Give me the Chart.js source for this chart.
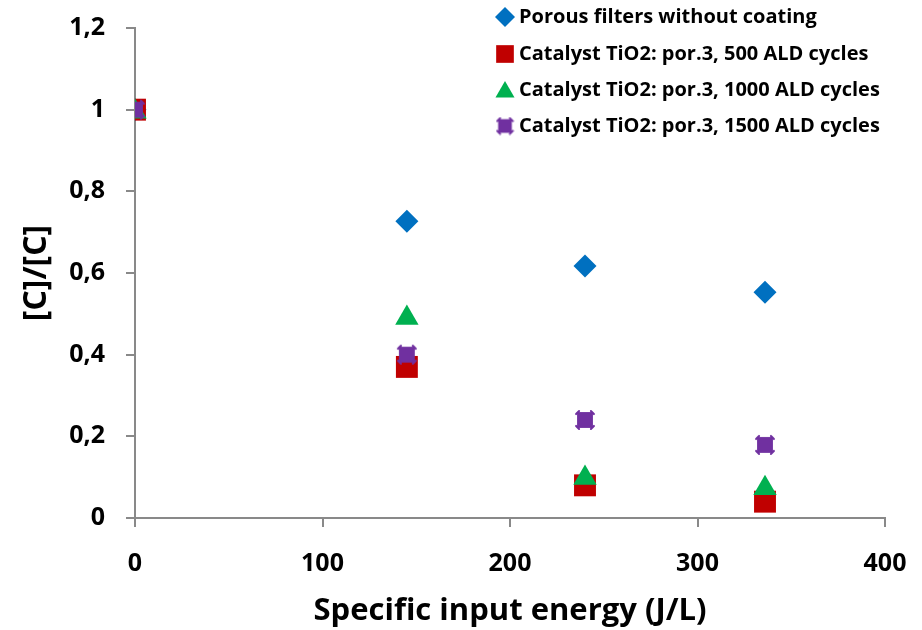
<!DOCTYPE html>
<html lang="en">
<head>
  <meta charset="UTF-8" />
  <title>Specific input energy</title>
  <script src="https://cdn.jsdelivr.net/npm/chart.js"></script>
  <style>
    html, body { margin: 0; padding: 0; background: #fff; }
    #wrap { width: 922px; height: 630px; }
  </style>
</head>
<body>
  <div id="wrap"><canvas id="chart" width="922" height="630"></canvas></div>

  <script>
    // datos
    const energy = [0, 145, 240, 336];
    const seriesNames = [
      'Porous filters without coating',
      'Catalyst TiO2: por.3, 500 ALD cycles',
      'Catalyst TiO2: por.3, 1000 ALD cycles',
      'Catalyst TiO2: por.3, 1500 ALD cycles'
    ];
    const uncoated = [1.0, 0.727, 0.617, 0.553];
    const ald500 = [1.0, 0.37, 0.08, 0.04];
    const ald1000 = [0.995, 0.49, 0.098, 0.073];
    const ald1500 = [1.0, 0.40, 0.24, 0.179];
    const yTicks = [0, 0.2, 0.4, 0.6, 0.8, 1, 1.2];
    const colors = ['#0070C0', '#C00000', '#00B050', '#7030A0'];

    const FONT = '"Open Sans", sans-serif';

    // marcador morado: cuadrado con esquinas marcadas
    function purpleMarker(size) {
      const c = document.createElement('canvas');
      c.width = size; c.height = size;
      const g = c.getContext('2d');
      const m = size / 2, h = size * 0.36;
      g.fillStyle = colors[3];
      g.fillRect(m - h, m - h, 2 * h, 2 * h);
      g.lineWidth = 2;
      g.strokeStyle = colors[3];
      g.lineCap = 'round';
      [[-1, -1], [1, -1], [-1, 1], [1, 1]].forEach(([sx, sy]) => {
        g.beginPath();
        g.moveTo(m + sx * (h - 2), m + sy * (h + 1));
        g.lineTo(m + sx * (h + 1), m + sy * (h - 2));
        g.stroke();
      });
      return c;
    }
    const purple = purpleMarker(22);

    const pts = ys => energy.map((x, i) => ({ x, y: ys[i] }));

    const styles = [
      { pointStyle: 'rectRot', radius: 11.5 },
      { pointStyle: 'rect', radius: 15.5 },
      { pointStyle: 'triangle', radius: 13.5 },
      { pointStyle: purple, radius: 11 }
    ];

    const datasets = [uncoated, ald500, ald1000, ald1500].map((ys, i) => ({
      label: seriesNames[i],
      data: pts(ys),
      showLine: false,
      pointStyle: styles[i].pointStyle,
      pointRadius: styles[i].radius,
      pointHoverRadius: styles[i].radius,
      backgroundColor: colors[i],
      borderColor: colors[i],
      borderWidth: 0,
      order: 4 - i
    }));

    // leyenda dibujada dentro del area, arriba a la derecha
    const legendInside = {
      id: 'legendInside',
      afterDraw(chart) {
        const ctx = chart.ctx;
        const rows = [17, 54, 90, 126];
        const legendStyles = [
          { pointStyle: 'rectRot', radius: 10 },
          { pointStyle: 'rect', radius: 12.5 },
          { pointStyle: 'triangle', radius: 11 },
          { pointStyle: purpleMarker(19), radius: 9 }
        ];
        ctx.save();
        rows.forEach((y, i) => {
          ctx.fillStyle = colors[i];
          ctx.strokeStyle = colors[i];
          ctx.lineWidth = 0;
          Chart.helpers.drawPoint(ctx, {
            pointStyle: legendStyles[i].pointStyle,
            radius: legendStyles[i].radius,
            rotation: 0,
            borderWidth: 0
          }, 505, y + (i === 2 ? 2 : 0));
          ctx.fillStyle = '#000';
          ctx.font = 'bold 20px ' + FONT;
          ctx.textBaseline = 'middle';
          ctx.textAlign = 'left';
          ctx.fillText(seriesNames[i], 519, y);
        });
        ctx.restore();
      }
    };

    new Chart(document.getElementById('chart'), {
      type: 'scatter',
      data: { datasets },
      plugins: [legendInside],
      options: {
        responsive: false,
        animation: false,
        layout: { padding: { top: 0, right: 0, left: 18, bottom: 0 } },
        plugins: {
          legend: { display: false },
          tooltip: { enabled: false }
        },
        scales: {
          x: {
            type: 'linear',
            min: 0,
            max: 400,
            afterFit: axis => { axis.height = 112; axis.paddingRight = 37; },
            ticks: {
              stepSize: 100,
              color: '#000',
              padding: 22,
              font: { family: FONT, size: 25, weight: 'bold' }
            },
            grid: {
              drawOnChartArea: false,
              color: '#898989',
              lineWidth: 2,
              tickLength: 9
            },
            border: { color: '#898989', width: 2 },
            title: {
              display: true,
              text: 'Specific input energy (J/L)',
              color: '#000',
              font: { family: FONT, size: 31, weight: 'bold' },
              padding: { top: 0, bottom: 0 }
            }
          },
          y: {
            min: 0,
            max: 1.2,
            afterBuildTicks: axis => { axis.ticks = yTicks.map(v => ({ value: v })); },
            afterFit: axis => { axis.width = 117; axis.paddingTop = 28; },
            ticks: {
              color: '#000',
              padding: 21,
              font: { family: FONT, size: 25, weight: 'bold' },
              callback: v => String(Number(v.toFixed(1))).replace('.', ',')
            },
            grid: {
              drawOnChartArea: false,
              color: '#898989',
              lineWidth: 2,
              tickLength: 9
            },
            border: { color: '#898989', width: 2 },
            title: {
              display: true,
              text: '[C]/[C]',
              color: '#000',
              font: { family: FONT, size: 32, weight: 'bold' },
              padding: { top: 0, bottom: 0 }
            }
          }
        }
      }
    });
  </script>
</body>
</html>
